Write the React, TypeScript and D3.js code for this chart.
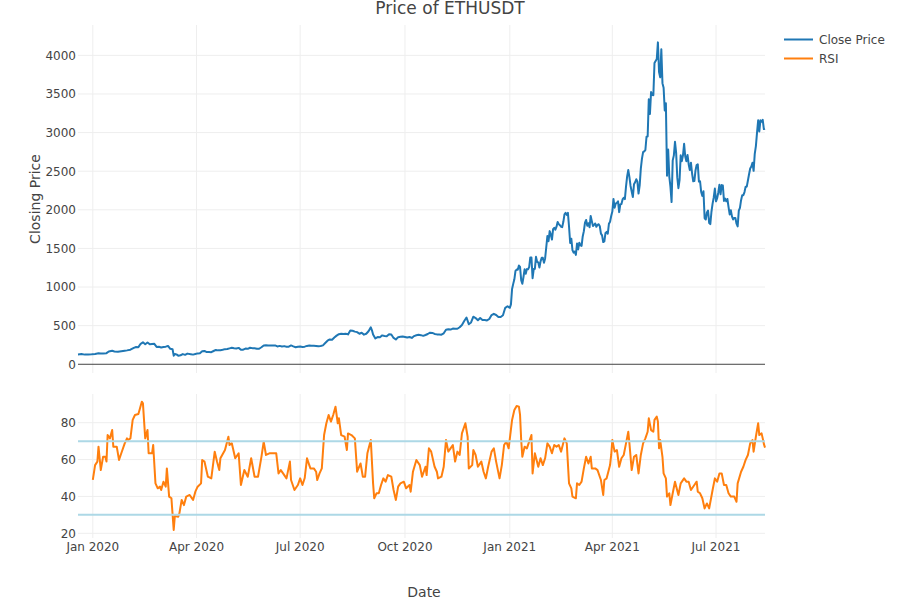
import React from "react";
import * as d3 from "d3";

// ---------- DATA ----------
const chartTitle = "Price of ETHUSDT";
const seriesNames = ["Close Price", "RSI"];
const seriesColors = ["#1f77b4", "#ff7f0e"];

const priceSeries: [string, number][] = [
  ["2019-12-19",128],["2019-12-22",132],["2019-12-25",125],["2019-12-28",128],["2019-12-31",129],
  ["2020-01-03",134],["2020-01-06",144],["2020-01-08",141],["2020-01-10",138],["2020-01-13",144],
  ["2020-01-15",166],["2020-01-18",174],["2020-01-20",166],["2020-01-23",162],["2020-01-26",168],
  ["2020-01-29",175],["2020-01-31",180],["2020-02-03",189],["2020-02-06",212],["2020-02-08",223],
  ["2020-02-10",222],["2020-02-12",265],["2020-02-14",284],["2020-02-16",260],["2020-02-18",282],
  ["2020-02-20",258],["2020-02-22",262],["2020-02-24",265],["2020-02-26",225],["2020-02-28",227],
  ["2020-03-01",218],["2020-03-03",224],["2020-03-05",228],["2020-03-07",237],["2020-03-09",200],
  ["2020-03-11",194],["2020-03-12",111],["2020-03-13",133],["2020-03-15",123],["2020-03-16",110],
  ["2020-03-18",117],["2020-03-20",132],["2020-03-22",122],["2020-03-24",138],["2020-03-27",131],
  ["2020-03-29",125],["2020-03-31",133],["2020-04-02",141],["2020-04-04",144],["2020-04-06",170],
  ["2020-04-08",173],["2020-04-10",158],["2020-04-12",158],["2020-04-14",157],["2020-04-16",172],
  ["2020-04-18",186],["2020-04-20",180],["2020-04-22",182],["2020-04-24",187],["2020-04-26",196],
  ["2020-04-28",197],["2020-04-30",206],["2020-05-02",213],["2020-05-04",208],["2020-05-06",204],
  ["2020-05-08",212],["2020-05-10",188],["2020-05-12",189],["2020-05-14",203],["2020-05-16",200],
  ["2020-05-18",214],["2020-05-20",209],["2020-05-22",207],["2020-05-24",201],["2020-05-26",201],
  ["2020-05-28",220],["2020-05-30",243],["2020-06-01",246],["2020-06-03",244],["2020-06-05",243],
  ["2020-06-07",244],["2020-06-09",244],["2020-06-11",231],["2020-06-13",238],["2020-06-15",231],
  ["2020-06-17",235],["2020-06-19",228],["2020-06-21",228],["2020-06-23",244],["2020-06-25",232],
  ["2020-06-27",221],["2020-06-29",228],["2020-07-01",231],["2020-07-03",225],["2020-07-05",228],
  ["2020-07-07",238],["2020-07-09",243],["2020-07-11",241],["2020-07-13",240],["2020-07-15",238],
  ["2020-07-17",233],["2020-07-19",236],["2020-07-21",245],["2020-07-23",275],["2020-07-25",305],
  ["2020-07-27",322],["2020-07-29",318],["2020-07-31",346],["2020-08-02",371],["2020-08-04",390],
  ["2020-08-06",396],["2020-08-08",391],["2020-08-10",396],["2020-08-12",387],["2020-08-14",437],
  ["2020-08-16",434],["2020-08-18",423],["2020-08-20",416],["2020-08-22",395],["2020-08-24",408],
  ["2020-08-26",384],["2020-08-28",395],["2020-08-30",428],["2020-09-01",478],["2020-09-02",440],
  ["2020-09-03",385],["2020-09-05",335],["2020-09-07",352],["2020-09-09",351],["2020-09-11",374],
  ["2020-09-13",366],["2020-09-15",364],["2020-09-17",389],["2020-09-19",385],["2020-09-21",341],
  ["2020-09-23",321],["2020-09-25",351],["2020-09-27",356],["2020-09-29",360],["2020-10-01",354],
  ["2020-10-03",346],["2020-10-05",353],["2020-10-07",341],["2020-10-09",365],["2020-10-11",375],
  ["2020-10-13",381],["2020-10-15",377],["2020-10-17",368],["2020-10-19",379],["2020-10-21",392],
  ["2020-10-23",409],["2020-10-25",406],["2020-10-27",393],["2020-10-29",387],["2020-10-31",386],
  ["2020-11-02",383],["2020-11-04",401],["2020-11-06",448],["2020-11-08",454],["2020-11-10",449],
  ["2020-11-12",462],["2020-11-14",461],["2020-11-16",460],["2020-11-18",479],["2020-11-20",509],
  ["2020-11-22",560],["2020-11-24",605],["2020-11-26",519],["2020-11-28",541],["2020-11-30",616],
  ["2020-12-02",599],["2020-12-04",570],["2020-12-06",600],["2020-12-08",573],["2020-12-10",573],
  ["2020-12-12",568],["2020-12-14",586],["2020-12-16",637],["2020-12-18",653],["2020-12-20",638],
  ["2020-12-22",611],["2020-12-24",612],["2020-12-26",634],["2020-12-28",731],["2020-12-30",752],
  ["2021-01-01",731],["2021-01-02",775],["2021-01-03",975],["2021-01-04",1041],["2021-01-05",1100],
  ["2021-01-06",1209],["2021-01-07",1226],["2021-01-08",1224],["2021-01-09",1278],["2021-01-10",1260],
  ["2021-01-11",1090],["2021-01-12",1043],["2021-01-13",1130],["2021-01-14",1229],["2021-01-15",1172],
  ["2021-01-16",1232],["2021-01-17",1230],["2021-01-18",1258],["2021-01-19",1383],["2021-01-20",1382],
  ["2021-01-21",1114],["2021-01-22",1233],["2021-01-23",1235],["2021-01-24",1391],["2021-01-25",1325],
  ["2021-01-26",1318],["2021-01-27",1252],["2021-01-28",1333],["2021-01-29",1379],["2021-01-30",1378],
  ["2021-01-31",1314],["2021-02-01",1370],["2021-02-02",1515],["2021-02-03",1660],["2021-02-04",1593],
  ["2021-02-05",1724],["2021-02-06",1678],["2021-02-07",1614],["2021-02-08",1750],["2021-02-09",1767],
  ["2021-02-10",1743],["2021-02-11",1782],["2021-02-12",1843],["2021-02-13",1815],["2021-02-14",1800],
  ["2021-02-15",1781],["2021-02-16",1776],["2021-02-17",1845],["2021-02-18",1940],["2021-02-19",1960],
  ["2021-02-20",1935],["2021-02-21",1960],["2021-02-22",1781],["2021-02-23",1570],["2021-02-24",1626],
  ["2021-02-25",1478],["2021-02-26",1446],["2021-02-27",1460],["2021-02-28",1416],["2021-03-01",1564],
  ["2021-03-02",1487],["2021-03-03",1575],["2021-03-04",1540],["2021-03-05",1533],["2021-03-06",1655],
  ["2021-03-07",1724],["2021-03-08",1833],["2021-03-09",1868],["2021-03-10",1793],["2021-03-11",1826],
  ["2021-03-12",1773],["2021-03-13",1921],["2021-03-14",1853],["2021-03-15",1791],["2021-03-16",1806],
  ["2021-03-17",1823],["2021-03-18",1780],["2021-03-19",1806],["2021-03-20",1813],["2021-03-21",1787],
  ["2021-03-22",1691],["2021-03-23",1669],["2021-03-24",1582],["2021-03-25",1590],["2021-03-26",1701],
  ["2021-03-27",1714],["2021-03-28",1690],["2021-03-29",1819],["2021-03-30",1846],["2021-03-31",1919],
  ["2021-04-01",1977],["2021-04-02",2141],["2021-04-03",2027],["2021-04-04",2081],["2021-04-05",2091],
  ["2021-04-06",2110],["2021-04-07",1970],["2021-04-08",2071],["2021-04-09",2076],["2021-04-10",2135],
  ["2021-04-11",2157],["2021-04-12",2139],["2021-04-13",2300],["2021-04-14",2432],["2021-04-15",2515],
  ["2021-04-16",2423],["2021-04-17",2309],["2021-04-18",2236],["2021-04-19",2165],["2021-04-20",2330],
  ["2021-04-21",2357],["2021-04-22",2396],["2021-04-23",2364],["2021-04-24",2210],["2021-04-25",2316],
  ["2021-04-26",2534],["2021-04-27",2662],["2021-04-28",2746],["2021-04-29",2756],["2021-04-30",2774],
  ["2021-05-01",2946],["2021-05-02",2950],["2021-05-03",3431],["2021-05-04",3240],["2021-05-05",3524],
  ["2021-05-06",3490],["2021-05-07",3484],["2021-05-08",3902],["2021-05-09",3928],["2021-05-10",3952],
  ["2021-05-11",4168],["2021-05-12",3785],["2021-05-13",3715],["2021-05-14",4079],["2021-05-15",3640],
  ["2021-05-16",3580],["2021-05-17",3285],["2021-05-18",3380],["2021-05-19",2440],["2021-05-20",2780],
  ["2021-05-21",2430],["2021-05-22",2300],["2021-05-23",2100],["2021-05-24",2640],["2021-05-25",2705],
  ["2021-05-26",2880],["2021-05-27",2740],["2021-05-28",2420],["2021-05-29",2280],["2021-05-30",2385],
  ["2021-05-31",2705],["2021-06-01",2630],["2021-06-02",2705],["2021-06-03",2855],["2021-06-04",2690],
  ["2021-06-05",2630],["2021-06-06",2710],["2021-06-07",2590],["2021-06-08",2515],["2021-06-09",2610],
  ["2021-06-10",2470],["2021-06-11",2370],["2021-06-12",2372],["2021-06-13",2510],["2021-06-14",2580],
  ["2021-06-15",2590],["2021-06-16",2365],["2021-06-17",2370],["2021-06-18",2230],["2021-06-19",2180],
  ["2021-06-20",2240],["2021-06-21",1890],["2021-06-22",1875],["2021-06-23",1965],["2021-06-24",1990],
  ["2021-06-25",1830],["2021-06-26",1815],["2021-06-27",1975],["2021-06-28",2080],["2021-06-29",2160],
  ["2021-06-30",2275],["2021-07-01",2110],["2021-07-02",2150],["2021-07-03",2225],["2021-07-04",2325],
  ["2021-07-05",2200],["2021-07-06",2320],["2021-07-07",2315],["2021-07-08",2115],["2021-07-09",2145],
  ["2021-07-10",2110],["2021-07-11",2140],["2021-07-12",2035],["2021-07-13",1940],["2021-07-14",1995],
  ["2021-07-15",1915],["2021-07-16",1875],["2021-07-17",1895],["2021-07-18",1895],["2021-07-19",1820],
  ["2021-07-20",1785],["2021-07-21",1990],["2021-07-22",2025],["2021-07-23",2125],["2021-07-24",2190],
  ["2021-07-25",2190],["2021-07-26",2230],["2021-07-27",2300],["2021-07-28",2300],["2021-07-29",2380],
  ["2021-07-30",2460],["2021-07-31",2535],["2021-08-01",2560],["2021-08-02",2610],["2021-08-03",2505],
  ["2021-08-04",2725],["2021-08-05",2825],["2021-08-06",3000],["2021-08-07",3160],["2021-08-08",3015],
  ["2021-08-09",3160],["2021-08-10",3140],["2021-08-11",3165],["2021-08-12",3045],["2021-08-13",3050],
];

const rsiSeries: [string, number][] = [
  ["2020-01-01",49],["2020-01-03",57],["2020-01-05",58.9],["2020-01-06",67],["2020-01-08",54.3],
  ["2020-01-10",61.5],["2020-01-12",61.5],["2020-01-13",58.9],["2020-01-14",73.3],["2020-01-16",71.5],
  ["2020-01-18",76],["2020-01-19",67],["2020-01-22",67],["2020-01-24",59.8],["2020-01-26",63.4],
  ["2020-01-29",68.8],["2020-01-31",71.5],["2020-02-01",70.6],["2020-02-03",71.5],["2020-02-05",81.5],
  ["2020-02-07",84.2],["2020-02-10",84.7],["2020-02-11",86.9],["2020-02-13",91.4],["2020-02-14",90.5],
  ["2020-02-16",71.5],["2020-02-18",76],["2020-02-19",63.4],["2020-02-22",63.4],["2020-02-23",67.9],
  ["2020-02-25",47.1],["2020-02-27",44.4],["2020-02-29",45.3],["2020-03-01",43.5],["2020-03-03",48],
  ["2020-03-05",45.3],["2020-03-06",55.2],["2020-03-08",39.9],["2020-03-10",39],["2020-03-12",21.8],
  ["2020-03-13",29.4],["2020-03-16",29],["2020-03-17",30.8],["2020-03-19",38.1],["2020-03-21",35.3],
  ["2020-03-23",39.9],["2020-03-26",40.8],["2020-03-29",38.1],["2020-03-31",42.6],["2020-04-02",45.3],
  ["2020-04-05",47.1],["2020-04-06",59.8],["2020-04-08",58.9],["2020-04-11",50.7],["2020-04-14",49.8],
  ["2020-04-17",64.3],["2020-04-19",58.9],["2020-04-21",54.3],["2020-04-22",60.7],["2020-04-26",65.2],
  ["2020-04-29",72.4],["2020-04-30",67.9],["2020-05-02",68.8],["2020-05-05",60.7],["2020-05-08",63.4],
  ["2020-05-10",46.2],["2020-05-13",54.3],["2020-05-16",50.7],["2020-05-19",60.7],["2020-05-22",50.7],
  ["2020-05-25",50.7],["2020-05-28",61.5],["2020-05-30",69.7],["2020-06-01",62.5],["2020-06-04",63.4],
  ["2020-06-07",63.4],["2020-06-10",63.4],["2020-06-12",52.5],["2020-06-14",54.3],["2020-06-16",52.5],
  ["2020-06-19",49.8],["2020-06-22",58.9],["2020-06-23",48.9],["2020-06-26",43.5],["2020-06-29",46.2],
  ["2020-07-01",49.8],["2020-07-03",46.2],["2020-07-05",50],["2020-07-07",60.7],["2020-07-09",57],
  ["2020-07-10",55.2],["2020-07-13",55.2],["2020-07-15",53.4],["2020-07-16",48.9],["2020-07-18",52.5],
  ["2020-07-20",55.2],["2020-07-22",73.3],["2020-07-24",79.7],["2020-07-26",84.2],["2020-07-28",80.6],
  ["2020-07-30",84.2],["2020-08-01",88.7],["2020-08-03",79.7],["2020-08-04",82.4],["2020-08-06",73.3],
  ["2020-08-09",72.4],["2020-08-11",65.2],["2020-08-12",74.2],["2020-08-15",73.3],["2020-08-18",71.5],
  ["2020-08-19",62.5],["2020-08-20",53.4],["2020-08-23",57.9],["2020-08-25",50.7],["2020-08-27",50.7],
  ["2020-08-29",63.4],["2020-09-01",70.6],["2020-09-03",47.1],["2020-09-04",39],["2020-09-06",41.7],
  ["2020-09-08",41.7],["2020-09-10",46.2],["2020-09-12",49.8],["2020-09-14",48],["2020-09-16",51.6],
  ["2020-09-19",50.7],["2020-09-21",43.5],["2020-09-23",38.1],["2020-09-25",45.3],["2020-09-27",47.1],
  ["2020-09-30",48],["2020-10-02",44.4],["2020-10-05",46.2],["2020-10-06",42.6],["2020-10-08",53.4],
  ["2020-10-11",59.8],["2020-10-14",57],["2020-10-16",50.7],["2020-10-19",56.1],["2020-10-20",51.6],
  ["2020-10-22",66.1],["2020-10-24",64.3],["2020-10-27",56.1],["2020-10-29",53.4],["2020-10-30",49.8],
  ["2020-11-02",50.7],["2020-11-04",56.1],["2020-11-06",70.6],["2020-11-08",64.3],["2020-11-10",66.1],
  ["2020-11-12",67.9],["2020-11-14",58.9],["2020-11-16",64.3],["2020-11-18",62.5],["2020-11-20",74.2],
  ["2020-11-23",79.7],["2020-11-25",72.4],["2020-11-26",55.2],["2020-11-29",57],["2020-11-30",65.2],
  ["2020-12-02",62.5],["2020-12-04",56.1],["2020-12-07",58.9],["2020-12-09",53.4],["2020-12-11",49.8],
  ["2020-12-13",56.1],["2020-12-16",64.3],["2020-12-18",66.1],["2020-12-20",58.9],["2020-12-23",49.8],
  ["2020-12-25",57],["2020-12-27",67.9],["2020-12-29",69.7],["2020-12-31",66.1],["2021-01-03",81.5],
  ["2021-01-05",86.9],["2021-01-07",89.1],["2021-01-09",88.7],["2021-01-10",84.2],["2021-01-11",70.6],
  ["2021-01-12",61.5],["2021-01-14",67],["2021-01-16",66.1],["2021-01-18",69.7],["2021-01-20",73.3],
  ["2021-01-21",52.5],["2021-01-23",63.4],["2021-01-26",56.1],["2021-01-28",60.7],["2021-01-30",57],
  ["2021-02-01",60.7],["2021-02-03",68.8],["2021-02-05",67],["2021-02-07",63.4],["2021-02-09",67.9],
  ["2021-02-11",67],["2021-02-13",67.9],["2021-02-15",64.3],["2021-02-18",71.5],["2021-02-20",68.8],
  ["2021-02-22",47.1],["2021-02-24",44.4],["2021-02-25",39.9],["2021-02-28",39],["2021-03-01",47.1],
  ["2021-03-03",46.2],["2021-03-05",48],["2021-03-07",55.2],["2021-03-09",61.5],["2021-03-11",57.9],
  ["2021-03-13",61.5],["2021-03-14",55.2],["2021-03-17",55.2],["2021-03-19",54.3],["2021-03-22",48.9],
  ["2021-03-24",40.8],["2021-03-25",48.9],["2021-03-27",49.8],["2021-03-30",57],["2021-03-31",62.5],
  ["2021-04-01",70.6],["2021-04-03",64.3],["2021-04-05",65.2],["2021-04-07",56.1],["2021-04-09",60.7],
  ["2021-04-11",62.5],["2021-04-13",68.8],["2021-04-15",75.1],["2021-04-16",68.8],["2021-04-18",54.3],
  ["2021-04-20",61.5],["2021-04-22",62.5],["2021-04-24",52.5],["2021-04-26",62.5],["2021-04-28",68.8],
  ["2021-04-30",71.5],["2021-05-02",75.1],["2021-05-03",82.4],["2021-05-05",76],["2021-05-07",75.1],
  ["2021-05-08",81.5],["2021-05-10",83.3],["2021-05-11",80.6],["2021-05-12",66.1],["2021-05-13",70.6],
  ["2021-05-15",61.5],["2021-05-16",52.5],["2021-05-18",49.8],["2021-05-19",39.9],["2021-05-21",41.7],
  ["2021-05-22",35.3],["2021-05-24",41.7],["2021-05-26",48],["2021-05-29",40.8],["2021-05-31",47.1],
  ["2021-06-03",49.8],["2021-06-05",48],["2021-06-07",48],["2021-06-09",43.5],["2021-06-12",46.2],
  ["2021-06-14",48],["2021-06-15",42.6],["2021-06-17",41.7],["2021-06-19",39],["2021-06-21",33.5],
  ["2021-06-23",36.2],["2021-06-25",33.5],["2021-06-28",43.5],["2021-06-30",49.8],["2021-07-02",48],
  ["2021-07-04",52.5],["2021-07-06",52.5],["2021-07-08",46.2],["2021-07-10",46.2],["2021-07-12",41.7],
  ["2021-07-14",39.9],["2021-07-17",39.9],["2021-07-19",37.1],["2021-07-20",47.1],["2021-07-23",53.4],
  ["2021-07-25",56.1],["2021-07-27",59.8],["2021-07-29",62.5],["2021-07-31",68.8],["2021-08-02",70.6],
  ["2021-08-03",64.3],["2021-08-05",72.4],["2021-08-07",79.7],["2021-08-08",73.3],["2021-08-10",74.2],
  ["2021-08-11",71.5],["2021-08-12",68.5],["2021-08-13",66.5],
];

const priceTicks = [0, 500, 1000, 1500, 2000, 2500, 3000, 3500, 4000];
const rsiTicks = [20, 40, 60, 80];
const rsiBands = [70, 30];
const xTickDates = ["2020-01-01", "2020-04-01", "2020-07-01", "2020-10-01", "2021-01-01", "2021-04-01", "2021-07-01"];
const priceRange = [-113, 4393];
const rsiRange = [17.45, 95.57];

// ---------- LAYOUT ----------
const FONT = '"DejaVu Sans", Verdana, sans-serif';
const X0 = 78, X1 = 765;
const TOP = [25, 373];
const BOT = [394, 538];

export default function App() {
  const parse = d3.utcParse("%Y-%m-%d");
  const price = priceSeries.map(([d, v]) => ({ date: parse(d) as Date, v }));
  const rsi = rsiSeries.map(([d, v]) => ({ date: parse(d) as Date, v }));

  const x = d3
    .scaleUtc()
    .domain([price[0].date, price[price.length - 1].date])
    .range([X0, X1]);
  const yP = d3.scaleLinear().domain(priceRange).range([TOP[1], TOP[0]]);
  const yR = d3.scaleLinear().domain(rsiRange).range([BOT[1], BOT[0]]);

  const lineP = d3
    .line<{ date: Date; v: number }>()
    .x((d) => x(d.date))
    .y((d) => yP(d.v));
  const lineR = d3
    .line<{ date: Date; v: number }>()
    .x((d) => x(d.date))
    .y((d) => yR(d.v));

  const ticksX = xTickDates.map((s) => parse(s) as Date);
  const fmt = d3.utcFormat("%b %Y");

  return (
    <div style={{ position: "absolute", left: 0, top: 0 }}>
      <svg width={900} height={600} style={{ display: "block", background: "#fff" }} fontFamily={FONT}>
        <rect x={0} y={0} width={900} height={600} fill="#fff" />
        {/* grid: top panel */}
        {ticksX.map((d, i) => (
          <line key={"vt" + i} x1={x(d)} x2={x(d)} y1={TOP[0]} y2={TOP[1]} stroke="#eee" strokeWidth={1} />
        ))}
        {priceTicks.filter((t) => t !== 0).map((t) => (
          <line key={"ht" + t} x1={X0} x2={X1} y1={yP(t)} y2={yP(t)} stroke="#eee" strokeWidth={1} />
        ))}
        {/* grid: bottom panel */}
        {ticksX.map((d, i) => (
          <line key={"vb" + i} x1={x(d)} x2={x(d)} y1={BOT[0]} y2={BOT[1]} stroke="#eee" strokeWidth={1} />
        ))}
        {rsiTicks.map((t) => (
          <line key={"hb" + t} x1={X0} x2={X1} y1={yR(t)} y2={yR(t)} stroke="#eee" strokeWidth={1} />
        ))}
        {/* zero line */}
        <line x1={X0} x2={X1} y1={yP(0)} y2={yP(0)} stroke="#444" strokeWidth={1} />

        {/* data lines */}
        <path d={lineP(price) || ""} fill="none" stroke={seriesColors[0]} strokeWidth={2} strokeLinejoin="round" />
        <path d={lineR(rsi) || ""} fill="none" stroke={seriesColors[1]} strokeWidth={2} strokeLinejoin="round" />

        {/* RSI bands */}
        {rsiBands.map((b) => (
          <line key={"band" + b} x1={X0} x2={X1} y1={yR(b)} y2={yR(b)} stroke="#add8e6" strokeWidth={2} />
        ))}

        {/* y tick labels */}
        {priceTicks.map((t) => (
          <text key={"pl" + t} x={76} y={yP(t)} dy="0.36em" textAnchor="end" fontSize={12} fill="#444">
            {t}
          </text>
        ))}
        {rsiTicks.map((t) => (
          <text key={"rl" + t} x={76} y={yR(t)} dy="0.36em" textAnchor="end" fontSize={12} fill="#444">
            {t}
          </text>
        ))}
        {/* x tick labels */}
        {ticksX.map((d, i) => (
          <text key={"xl" + i} x={x(d)} y={BOT[1] + 13} textAnchor="middle" fontSize={12} fill="#444">
            {fmt(d)}
          </text>
        ))}

        {/* titles */}
        <text x={450} y={14} textAnchor="middle" fontSize={17} fill="#444">
          {chartTitle}
        </text>
        <text x={424} y={597} textAnchor="middle" fontSize={14} fill="#444">
          Date
        </text>
        <text transform={`translate(40,${(TOP[0] + TOP[1]) / 2}) rotate(-90)`} textAnchor="middle" fontSize={14} fill="#444">
          Closing Price
        </text>

        {/* legend */}
        {seriesNames.map((n, i) => (
          <g key={n} transform={`translate(0,${39.5 + i * 19})`}>
            <line x1={784} x2={813} y1={0} y2={0} stroke={seriesColors[i]} strokeWidth={2} />
            <text x={819} y={0} dy="0.36em" fontSize={12} fill="#444">
              {n}
            </text>
          </g>
        ))}
      </svg>
    </div>
  );
}
